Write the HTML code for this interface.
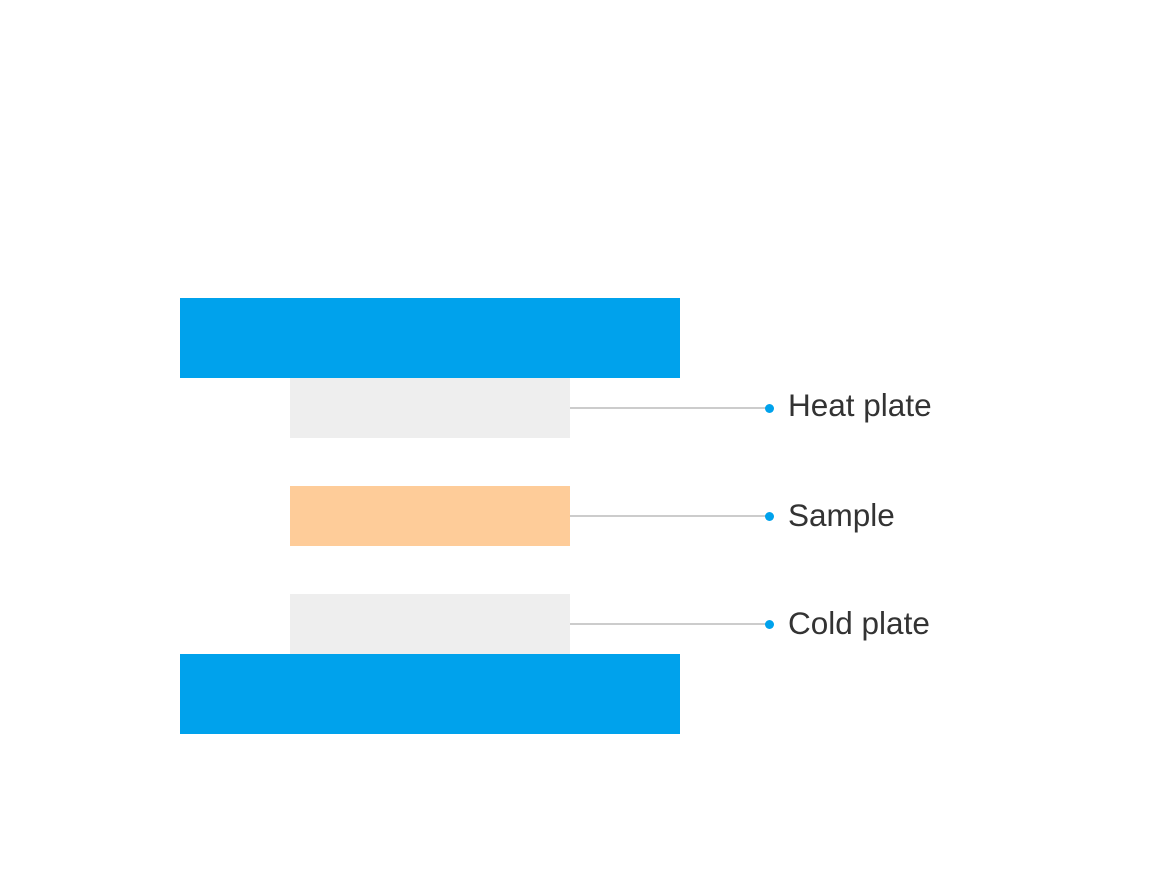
<!DOCTYPE html>
<html><head><style>
body{margin:0;width:1152px;height:894px;background:#fff;position:relative;overflow:hidden;font-family:"Liberation Sans",sans-serif}
div{position:absolute}
.t{color:#333;font-size:31.5px;line-height:1;left:788px}
</style></head><body>
<div style="left:180px;top:298px;width:500px;height:80px;background:#00a2ec"></div>
<div style="left:290px;top:378px;width:280px;height:60px;background:#eeeeee"></div>
<div style="left:290px;top:486px;width:280px;height:60px;background:#fecc99"></div>
<div style="left:290px;top:594px;width:280px;height:60px;background:#eeeeee"></div>
<div style="left:180px;top:654px;width:500px;height:80px;background:#00a2ec"></div>
<div style="left:570px;top:407px;width:199px;height:2px;background:#cccccc"></div>
<div style="left:570px;top:515px;width:199px;height:2px;background:#cccccc"></div>
<div style="left:570px;top:623px;width:199px;height:2px;background:#cccccc"></div>
<div style="left:765px;top:404px;width:9px;height:9px;border-radius:50%;background:#00a2ec"></div>
<div style="left:765px;top:512px;width:9px;height:9px;border-radius:50%;background:#00a2ec"></div>
<div style="left:765px;top:620px;width:9px;height:9px;border-radius:50%;background:#00a2ec"></div>
<div class="t" style="top:390px">Heat plate</div>
<div class="t" style="top:500px">Sample</div>
<div class="t" style="top:608px">Cold plate</div>
</body></html>
